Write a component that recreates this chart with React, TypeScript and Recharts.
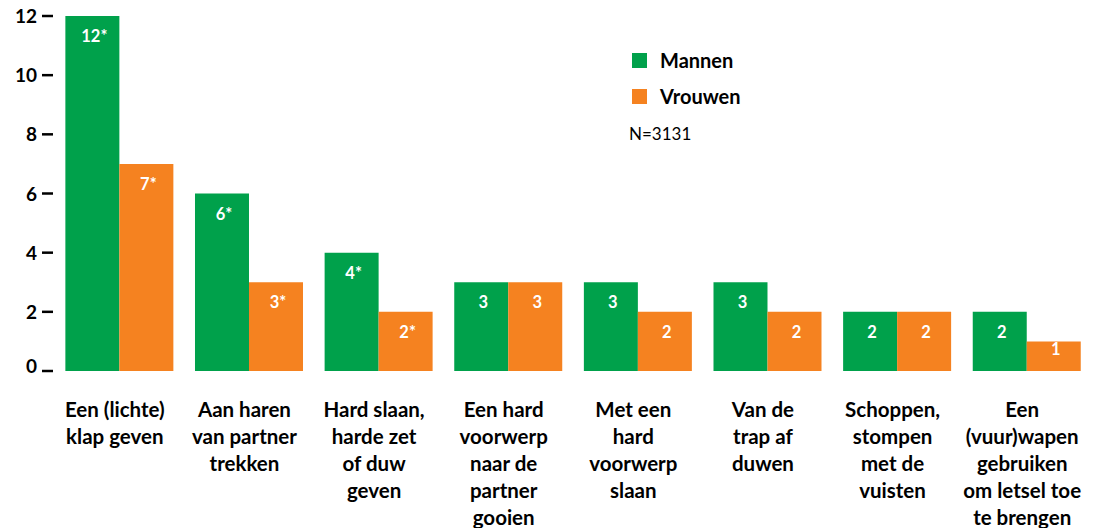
// Grouped bar chart: Mannen vs Vrouwen per type geweld
import { BarChart, Bar, XAxis, YAxis, Legend, LabelList } from "recharts";

const FONT = "Lato, 'Open Sans', sans-serif";
const GREEN = "#00a14b";
const ORANGE = "#f58220";

const categories = [
  "Een (lichte)\nklap geven",
  "Aan haren\nvan partner\ntrekken",
  "Hard slaan,\nharde zet\nof duw\ngeven",
  "Een hard\nvoorwerp\nnaar de\npartner\ngooien",
  "Met een\nhard\nvoorwerp\nslaan",
  "Van de\ntrap af\nduwen",
  "Schoppen,\nstompen\nmet de\nvuisten",
  "Een\n(vuur)wapen\ngebruiken\nom letsel toe\nte brengen",
];
const mannen = [12, 6, 4, 3, 3, 3, 2, 2];
const vrouwen = [7, 3, 2, 3, 2, 2, 2, 1];
const mannenLabels = ["12*", "6*", "4*", "3", "3", "3", "2", "2"];
const vrouwenLabels = ["7*", "3*", "2*", "3", "2", "2", "2", "1"];
const yTicks = [0, 2, 4, 6, 8, 10, 12];

const data = categories.map((name, i) => ({
  name,
  mannen: mannen[i],
  vrouwen: vrouwen[i],
  mLabel: mannenLabels[i],
  vLabel: vrouwenLabels[i],
}));

function BarLabel(props: any) {
  const x = Number(props.x);
  const y = Number(props.y);
  const w = Number(props.width);
  const h = Number(props.height);
  const off = Math.min(26, h * 0.47);
  return (
    <text
      x={x + w / 2 + 2}
      y={y + off}
      fill="#fff"
      fontSize={16.5}
      fontWeight={700}
      fontFamily={FONT}
      textAnchor="middle"
    >
      {props.value}
    </text>
  );
}

function XTick({ x, y, payload }: any) {
  const lines = String(payload.value).split("\n");
  return (
    <g>
      {lines.map((line, i) => (
        <text
          key={i}
          x={x - 5}
          y={y + 46 + i * 27}
          textAnchor="middle"
          fontSize={20.5}
          fontWeight={700}
          fontFamily={FONT}
          fill="#000"
        >
          {line}
        </text>
      ))}
    </g>
  );
}

function YTick({ x, y, payload }: any) {
  const dy = payload.value === 0 ? -5 : 0;
  return (
    <g>
      <line x1={x - 13} x2={x - 2} y1={y} y2={y} stroke="#000" strokeWidth={2.5} />
      <text
        x={x - 18}
        y={y + dy + 7}
        textAnchor="end"
        fontSize={19}
        fontWeight={700}
        fontFamily={FONT}
        fill="#000"
      >
        {payload.value}
      </text>
    </g>
  );
}

// legend drawn as a small svg block, positioned over the top-right of the plot
function LegendBox() {
  return (
    <svg width={260} height={100} style={{ display: "block", overflow: "visible" }}>
      <rect x={4} y={3} width={15} height={15} fill={GREEN} />
      <text x={32} y={18} fontSize={20} fontWeight={700} fontFamily={FONT} fill="#000">
        Mannen
      </text>
      <rect x={4} y={39} width={15} height={15} fill={ORANGE} />
      <text x={32} y={54} fontSize={20} fontWeight={700} fontFamily={FONT} fill="#000">
        Vrouwen
      </text>
      <text x={1} y={90} fontSize={17} fontFamily={FONT} fill="#000">
        N=3131
      </text>
    </svg>
  );
}

export default function App() {
  return (
    <div style={{ position: "absolute", left: 0, top: 0, background: "#fff" }}>
      <BarChart
        width={1107}
        height={528}
        data={data}
        margin={{ top: 16, right: 15, left: 0, bottom: 0 }}
        barCategoryGap="8%"
        barGap={0}
      >
        <XAxis
          dataKey="name"
          axisLine={false}
          tickLine={false}
          tickSize={0}
          tickMargin={0}
          height={157}
          interval={0}
          tick={<XTick />}
        />
        <YAxis
          domain={[0, 12]}
          ticks={yTicks}
          axisLine={false}
          tickLine={false}
          tickSize={0}
          tickMargin={0}
          width={55}
          tick={<YTick />}
        />
        <Legend
          layout="vertical"
          align="center"
          verticalAlign="middle"
          wrapperStyle={{ position: "absolute", left: 628, top: 50, width: 260, height: 100, overflow: "visible" }}
          content={() => <LegendBox />}
        />
        <Bar dataKey="mannen" name="Mannen" fill={GREEN} isAnimationActive={false}>
          <LabelList dataKey="mLabel" content={<BarLabel />} />
        </Bar>
        <Bar dataKey="vrouwen" name="Vrouwen" fill={ORANGE} isAnimationActive={false}>
          <LabelList dataKey="vLabel" content={<BarLabel />} />
        </Bar>
      </BarChart>
    </div>
  );
}
